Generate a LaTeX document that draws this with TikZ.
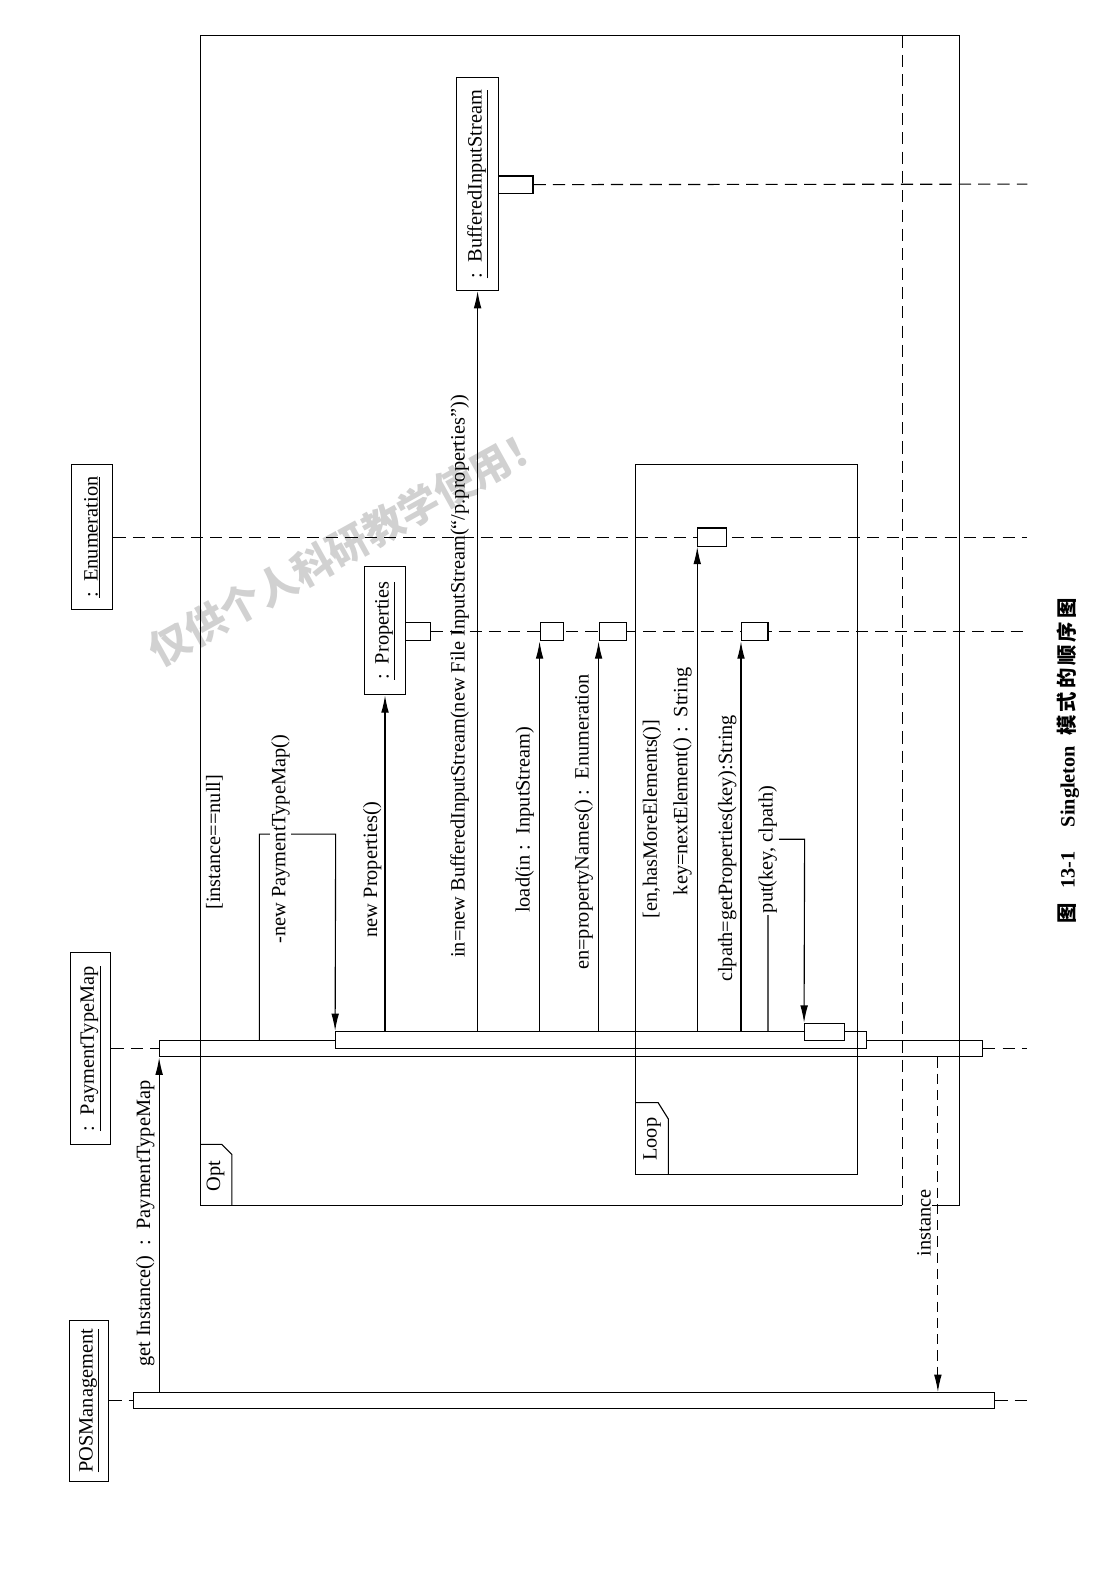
\documentclass[tikz,border=0pt]{standalone}
\usepackage{fontspec}
\setmainfont{Liberation Serif}
\newfontfamily\cjk{Noto Sans CJK SC}
\usetikzlibrary{arrows.meta}
\newcommand\lblfont{\fontsize{20}{24}\selectfont}
\begin{document}
\begin{tikzpicture}[x=1pt,y=-1pt,line width=1.1pt,
  obj/.style={draw, rotate=90, inner sep=0pt, font=\lblfont},
  actbox/.style={draw, fill=white, inner sep=0pt},
  life/.style={dash pattern=on 12pt off 7pt},
  msg/.style={-{Latex[length=17pt,width=7.5pt]}},
  ret/.style={dash pattern=on 10pt off 6pt, -{Latex[length=17pt,width=7.5pt]}},
  lab/.style={rotate=90, anchor=south, inner sep=1.5pt, font=\lblfont},
  tag/.style={rotate=90, inner sep=0pt, font=\lblfont},
]
\useasboundingbox (0,0) rectangle (1076,1568);

% watermark
\node[rotate=29, text=black!18, font=\cjk\bfseries\fontsize{40}{42}\selectfont] (wm) at (342,536) {仅供个人科研教学使用！};

% objects
\node[obj, minimum width=158pt, minimum height=39pt] (pos) at (87.5,1377) {\underline{POSManagement}};
\node[obj, minimum width=189pt, minimum height=40pt] (ptm) at (89,1031) {\underline{:\ \ PaymentTypeMap}};
\node[obj, minimum width=143pt, minimum height=41pt] (enum) at (90.5,528) {\underline{:\ \ Enumeration}};
\node[obj, minimum width=126pt, minimum height=41pt] (props) at (378.5,620) {\underline{:\ \ Properties}};
\node[obj, minimum width=209pt, minimum height=41pt] (bis) at (469.5,181) {\underline{:\ \ BufferedInputStream}};

% lifeline ends
\coordinate (posend) at (1010,1377);
\coordinate (ptmend) at (1010,1031);
\coordinate (enumend) at (1010,528);
\coordinate (propend) at (1010,621);
\coordinate (bisend) at (1010,181);

% activation bars
\node[actbox, minimum width=847pt, minimum height=16pt] (posbar) at (554.5,1377) {};
\node[actbox, minimum width=809pt, minimum height=16pt] (ptmbar) at (561.5,1031) {};
\node[actbox, minimum width=522pt, minimum height=17pt] (nestbar) at (591,1022.5) {};
\node[actbox, minimum width=39pt, minimum height=17pt] (putbar) at (810.5,1014.5) {};

% lifelines
\draw[life] (pos.south) -- (posbar.west);
\draw[life] (posbar.east) -- (posend);
\draw[life] (ptm.south) -- (ptmbar.west);
\draw[life] (ptmbar.east) -- (ptmend);
\draw[life] (enum.south) -- (enumend);

% small activation boxes
\node[actbox, minimum width=24pt, minimum height=18pt] (propact) at (411,621) {};
\node[actbox, minimum width=34pt, minimum height=17pt] (bisact) at (507,181.5) {};
\draw[life] (propact.east) -- (propend);
\draw[life] (bisact.east) -- (bisend);
\node[actbox, minimum width=23pt, minimum height=18pt] (loadact) at (542.5,621) {};
\node[actbox, minimum width=27pt, minimum height=18pt] (pnact) at (602.5,621) {};
\node[actbox, minimum width=28pt, minimum height=18pt] (nextact) at (700,528) {};
\node[actbox, minimum width=26pt, minimum height=18pt] (gpact) at (742,621) {};

% frames
\draw (887,1185) -- (197,1185) -- (197,35) -- (943,35) -- (943,1185) -- (916,1185);
\draw[life] (887,35) -- (887,1185);
\draw (197,1125) -- (218,1125) -- (228,1135) -- (228,1185);
\node[tag] (optlbl) at (212,1156) {Opt};
\draw (625,457) rectangle (843,1155);
\draw (625,1084) -- (647,1084) -- (657,1100) -- (657,1155);
\node[tag] (looplbl) at (641,1120) {Loop};

% messages
\draw[msg] (posbar.north -| ptmbar.west) -- (ptmbar.south west);
\coordinate (npmA) at (255,820);
\coordinate (npmB) at (330,820);
\draw[msg] (ptmbar.north -| npmA) -- (npmA) -- (npmB) -- (nestbar.north west);
\draw[msg] (nestbar.north -| props.west) -- (props.west);
\draw[msg] (nestbar.north -| bis.west) -- (bis.west);
\draw[msg] (nestbar.north -| loadact.south west) -- (loadact.south west);
\draw[msg] (nestbar.north -| pnact.south west) -- (pnact.south west);
\draw[msg] (nestbar.north -| nextact.south west) -- (nextact.south west);
\draw[msg] (nestbar.north -| gpact.south west) -- (gpact.south west);
\coordinate (putA) at (755,825);
\coordinate (putB) at (791,825);
\draw[msg] (nestbar.north -| putA) -- (putA) -- (putB) -- (putbar.north west);
\coordinate (instx) at (922,0);
\draw[ret] (ptmbar.south -| instx) -- (posbar.north -| instx);

% labels
\node[lab] (lgi) at (154,1203) {get Instance()\ \ :\ \ PaymentTypeMap};
\node[lab] (lguard) at (221,828) {[instance==null]};
\node[lab, fill=white] (lnpm) at (287,825) {-new PaymentTypeMap()};
\node[lab] (lnp) at (377,855) {new Properties()};
\node[lab] (lbis) at (463,665) {in=new BufferedInputStream(new File InputStream(“/p.properties”))};
\node[lab] (lload) at (527,806) {load(in\ :\ \ InputStream)};
\node[lab] (lpn) at (585,808) {en=propertyNames()\ :\ \ Enumeration};
\node[lab] (lloop) at (652,805) {[en,hasMoreElements()]};
\node[lab] (lne) at (682,768) {key=nextElement()\ :\ \ String};
\node[lab] (lgp) at (726,834) {clpath=getProperties(key):String};
\node[lab, fill=white] (lput) at (766,835) {put(key, clpath)};
\node[lab] (linst) at (917,1202) {instance};

% caption
\node[rotate=90, font=\bfseries\fontsize{20}{24}\selectfont] (cap) at (1050,748)
  {{\cjk 图}\hspace{14pt}13-1\hspace{24pt}Singleton\hspace{10pt}{\cjk 模\hspace{3pt}式\hspace{3pt}的\hspace{3pt}顺\hspace{3pt}序\hspace{3pt}图}};
\end{tikzpicture}
\end{document}
